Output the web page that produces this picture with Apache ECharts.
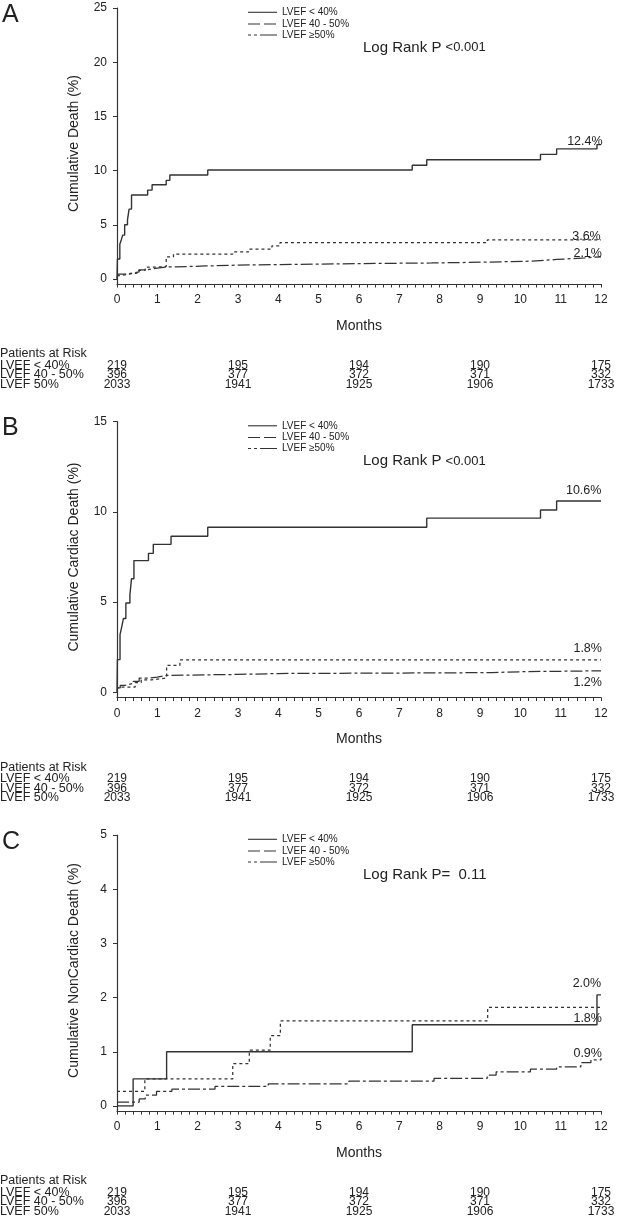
<!DOCTYPE html>
<html>
<head>
<meta charset="utf-8">
<script src="https://cdn.jsdelivr.net/npm/echarts@6/dist/echarts.min.js"></script>
<style>
  html, body { margin: 0; padding: 0; background: #fff; }
  #chart { width: 618px; height: 1223px; }
</style>
</head>
<body>
<div id="chart"></div>
<script>
// cumulative event curves
// each point is [month, cumulative %], the value holds until the next point

// A: all-cause death
const deathLow = [[0, 0], [0.01, 1.85], [0.07, 3.2], [0.11, 3.65], [0.14, 4.05], [0.19, 5.0], [0.26, 5.45], [0.3, 6.45], [0.36, 7.75], [0.76, 8.2], [0.87, 8.7], [1.22, 9.1], [1.31, 9.6], [2.25, 10.05], [7.32, 10.5], [7.68, 11.0], [10.5, 11.5], [10.9, 12.0], [11.9, 12.4], [12, 12.4]];
const deathMid = [[0, 0.3], [0.05, 0.45], [0.3, 0.55], [0.5, 0.8], [0.7, 1.1], [0.95, 1.15], [1.22, 2.05], [1.4, 2.3], [2.87, 2.5], [3.26, 2.75], [3.84, 3.05], [4.04, 3.35], [9.18, 3.6], [12, 3.6]];
const deathHigh = [[0, 0.1], [0.03, 0.45], [0.2, 0.55], [0.4, 0.65], [0.55, 0.85], [0.75, 1.0], [1.0, 1.1], [1.2, 1.2], [2.2, 1.28], [3.0, 1.33], [4.0, 1.42], [6.0, 1.48], [7.8, 1.55], [9.1, 1.65], [10.3, 1.8], [10.9, 1.95], [11.6, 2.05], [12, 2.1]];

// B: cardiac death
const cardiacLow = [[0, 0], [0.01, 1.82], [0.075, 3.2], [0.12, 3.66], [0.16, 4.1], [0.22, 4.95], [0.32, 5.4], [0.36, 6.3], [0.42, 7.3], [0.78, 7.7], [0.9, 8.2], [1.34, 8.65], [2.25, 9.15], [7.68, 9.65], [10.5, 10.1], [10.9, 10.6], [12, 10.6]];
const cardiacMid = [[0, 0.15], [0.04, 0.3], [0.45, 0.55], [0.6, 0.7], [0.85, 0.75], [1.05, 0.8], [1.23, 1.5], [1.56, 1.8], [12, 1.8]];
const cardiacHigh = [[0, 0.25], [0.08, 0.4], [0.2, 0.5], [0.4, 0.62], [0.55, 0.8], [0.8, 0.85], [1.0, 0.95], [1.25, 1.0], [3.0, 1.05], [4.0, 1.1], [9.3, 1.15], [10.0, 1.2], [12, 1.2]];

// C: noncardiac death
const noncardiacLow = [[0, 0], [0.4, 0.5], [1.23, 1.0], [7.32, 1.5], [11.9, 2.05], [12, 2.05]];
const noncardiacMid = [[0, 0.27], [0.69, 0.5], [2.87, 0.78], [3.28, 1.03], [3.8, 1.3], [4.05, 1.57], [9.19, 1.82], [12, 1.82]];
const noncardiacHigh = [[0, 0.07], [0.55, 0.13], [0.7, 0.2], [0.98, 0.27], [1.36, 0.31], [2.43, 0.36], [3.75, 0.41], [5.75, 0.46], [7.86, 0.51], [9.18, 0.57], [9.4, 0.63], [10.25, 0.68], [10.9, 0.72], [11.5, 0.8], [11.75, 0.85], [12, 0.88]];

const panelLetters = ['A', 'B', 'C'];
const yTitles = ['Cumulative Death (%)', 'Cumulative Cardiac Death (%)', 'Cumulative NonCardiac Death (%)'];
const yMaxes = [25, 15, 5];
const yIntervals = [5, 5, 1];
const legendNames = ['LVEF < 40%', 'LVEF 40 - 50%', 'LVEF \u226550%'];
const endTexts = [['12.4%', '3.6%', '2.1%'], ['10.6%', '1.8%', '1.2%'], ['2.0%', '1.8%', '0.9%']];
const pTexts = [['Log Rank P ', '<0.001'], ['Log Rank P ', '<0.001'], ['Log Rank P=  ', '0.11']];

const riskMonths = [0, 3, 6, 9, 12];
const riskGroups = ['LVEF < 40%', 'LVEF 40 - 50%', 'LVEF 50%'];
const riskLow = [219, 195, 194, 190, 175];
const riskMid = [396, 377, 372, 371, 332];
const riskHigh = [2033, 1941, 1925, 1906, 1733];

const curves = [
  [deathLow, deathMid, deathHigh],
  [cardiacLow, cardiacMid, cardiacHigh],
  [noncardiacLow, noncardiacMid, noncardiacHigh]
];
const riskRows = [riskLow, riskMid, riskHigh];

// where the end-of-curve percentages sit, in data units
const endLabelPos = [
  [[11.6, 12.7], [11.64, 3.9], [11.67, 2.37]],
  [[11.57, 11.16], [11.67, 2.41], [11.67, 0.53]],
  [[11.65, 2.26], [11.67, 1.61], [11.67, 0.97]]
];

const FONT = '"Liberation Sans", Arial, sans-serif';
const INK = '#222';
const LINE = '#333';
const panelOffset = [0, 413.5, 827];
const dashes = ['solid', [3, 3], [12, 3, 3, 3]];
const legendDashes = [null, [12, 4], [3, 3, 3, 3, 20, 0]];
const riskRowY = [365.5, 375, 384.3];

const chart = echarts.init(document.getElementById('chart'));

const grid = [], xAxis = [], yAxis = [], series = [], graphic = [];

panelLetters.forEach((letter, p) => {
  const off = panelOffset[p];
  const gData = grid.length;

  // plotting grid, value 0 sits at y = 279
  grid.push({ left: 117, width: 484, top: 8 + off, height: 271 });
  xAxis.push({ gridIndex: gData, type: 'value', min: 0, max: 12, show: false });
  yAxis.push({
    gridIndex: gData, type: 'value', min: 0, max: yMaxes[p], interval: yIntervals[p], offset: 3,
    axisLine: { show: false },
    axisTick: { show: true, length: 4, lineStyle: { color: LINE } },
    axisLabel: { margin: 7, fontSize: 12, color: INK, fontFamily: FONT },
    splitLine: { show: false },
    name: yTitles[p], nameLocation: 'middle', nameGap: 33,
    nameTextStyle: { fontSize: 14, color: INK, fontFamily: FONT }
  });

  // frame grid: axis lines a few px below zero, as in the figure
  const gFrame = grid.length;
  grid.push({ left: 117, width: 484, top: 8 + off, height: 276 });
  xAxis.push({
    gridIndex: gFrame, type: 'value', min: 0, max: 12, interval: 1,
    axisLine: { lineStyle: { color: LINE, width: 1.2 } },
    axisTick: { length: 3.5, lineStyle: { color: LINE } },
    minorTick: { show: true, splitNumber: 5, length: 3.5, lineStyle: { color: LINE } },
    axisLabel: { margin: 10, fontSize: 12, color: INK, fontFamily: FONT },
    splitLine: { show: false },
    name: 'Months', nameLocation: 'middle', nameGap: 35,
    nameTextStyle: { fontSize: 14, color: INK, fontFamily: FONT }
  });
  yAxis.push({
    gridIndex: gFrame, type: 'value', min: 0, max: 1, offset: 3,
    axisLine: { show: true, lineStyle: { color: LINE, width: 1.2 } },
    axisTick: { show: false }, axisLabel: { show: false }, splitLine: { show: false }
  });

  curves[p].forEach((data, s) => {
    series.push({
      type: 'line', xAxisIndex: gData, yAxisIndex: gData,
      step: 'end', symbol: 'none', silent: true, data: data,
      lineStyle: { color: LINE, width: s === 0 ? 1.4 : 1.25, type: dashes[s] },
      markPoint: {
        symbol: 'circle', symbolSize: 0, silent: true,
        label: { show: true, position: 'inside', formatter: endTexts[p][s], fontSize: 12.5, color: INK, fontFamily: FONT },
        data: [{ coord: endLabelPos[p][s] }]
      }
    });
  });

  // numbers at risk, one label-only axis per row
  riskRows.forEach((row, r) => {
    const gRisk = grid.length;
    grid.push({ left: 117, width: 484, top: riskRowY[r] + off - 1, height: 1 });
    xAxis.push({
      gridIndex: gRisk, type: 'value', min: 0, max: 12, interval: 3,
      axisLine: { show: false }, axisTick: { show: false }, splitLine: { show: false },
      axisLabel: {
        margin: 0, verticalAlign: 'middle', fontSize: 12, color: INK, fontFamily: FONT,
        formatter: v => String(row[Math.round(v / 3)])
      }
    });
    yAxis.push({ gridIndex: gRisk, type: 'value', show: false });
    graphic.push({
      type: 'text', x: 0, y: riskRowY[r] + off,
      style: { text: riskGroups[r], font: '12.5px ' + FONT, fill: INK, verticalAlign: 'middle' }
    });
  });

  graphic.push({
    type: 'text', x: 0, y: 354 + off,
    style: { text: 'Patients at Risk', font: '12.5px ' + FONT, fill: INK, verticalAlign: 'middle' }
  });
  graphic.push({
    type: 'text', x: 2, y: 15 + off,
    style: { text: letter, font: '25px ' + FONT, fill: INK, verticalAlign: 'middle' }
  });

  // legend
  legendNames.forEach((name, k) => {
    const y = [12.3, 24, 35][k] + off;
    graphic.push({
      type: 'line', shape: { x1: 248, y1: y, x2: 277, y2: y },
      style: { stroke: LINE, lineWidth: 1.1, lineDash: legendDashes[k] }
    });
    graphic.push({
      type: 'text', x: 282, y: y,
      style: { text: name, font: '10px ' + FONT, fill: INK, verticalAlign: 'middle' }
    });
  });

  graphic.push({
    type: 'text', x: 363, y: 47.7 + off,
    style: {
      text: '{a|' + pTexts[p][0] + '}{b|' + pTexts[p][1] + '}',
      verticalAlign: 'middle',
      rich: {
        a: { fontSize: 15, fontFamily: FONT, fill: INK },
        b: { fontSize: p === 2 ? 15 : 13, fontFamily: FONT, fill: INK }
      }
    }
  });
});

chart.setOption({
  animation: false,
  backgroundColor: '#fff',
  grid: grid,
  xAxis: xAxis,
  yAxis: yAxis,
  series: series,
  graphic: graphic
});
</script>
</body>
</html>
